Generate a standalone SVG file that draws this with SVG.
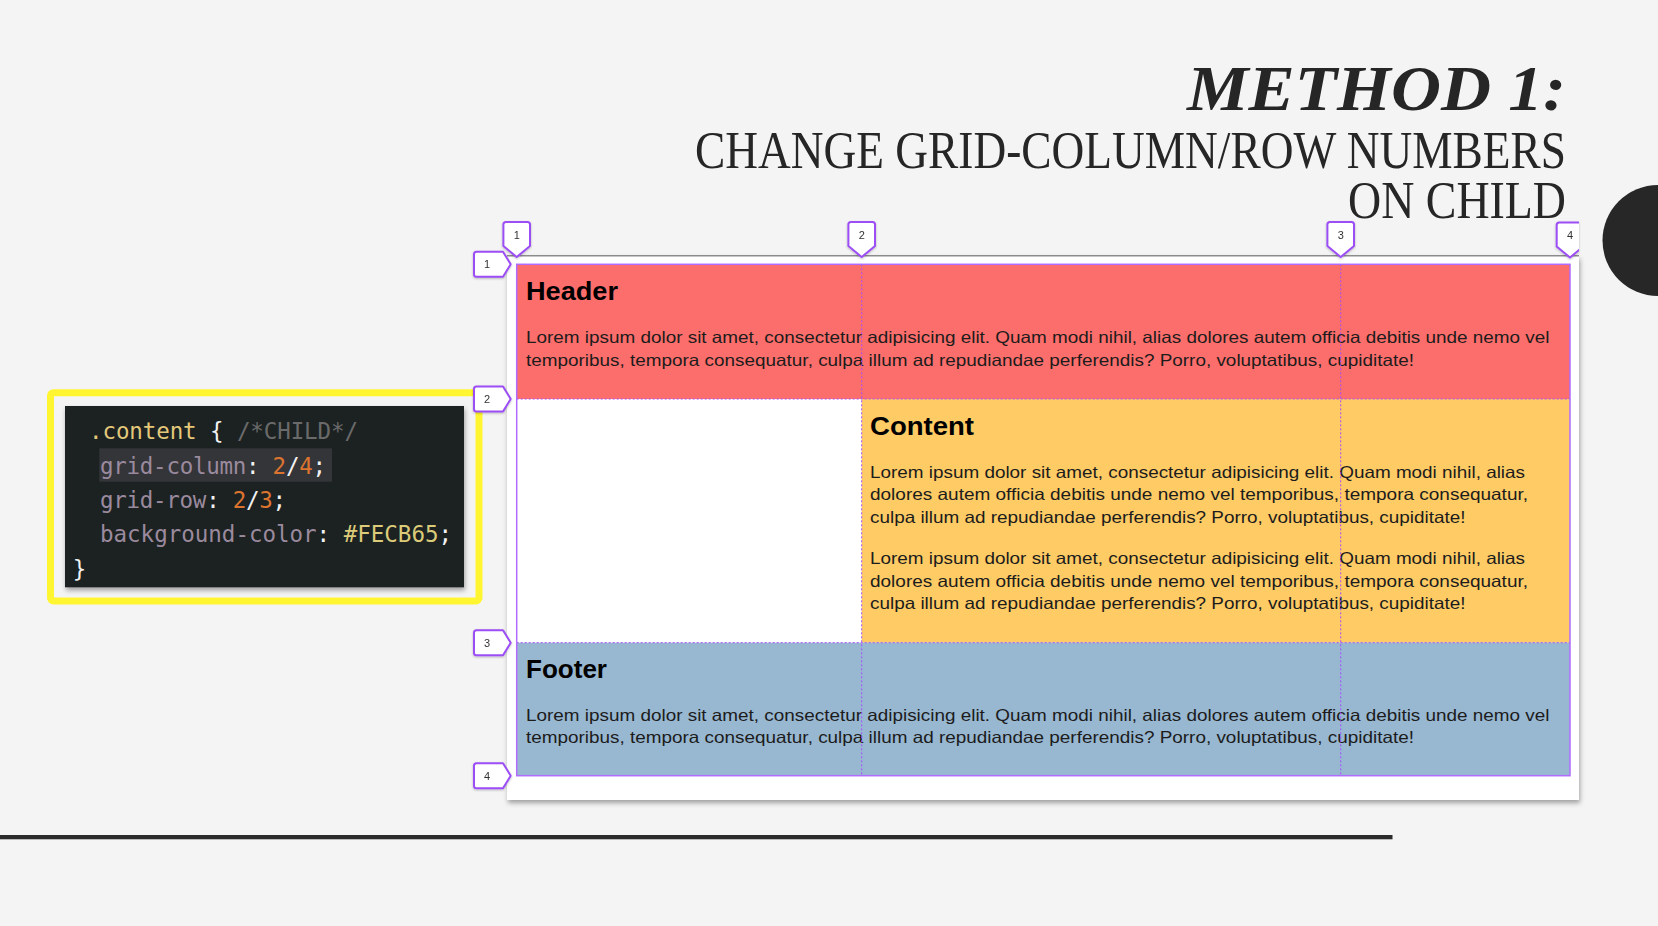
<svg xmlns="http://www.w3.org/2000/svg" width="1658" height="926" viewBox="0 0 1658 926">
  <defs>
    <style>
      .title { font-family: "Liberation Serif", "DejaVu Serif", serif; fill: #262626; }
      .code { font-family: "DejaVu Sans Mono", "Liberation Mono", monospace; font-size: 22.5px; }
      .sel { fill: #e4c87a; }
      .pun { fill: #f2f2f2; }
      .cmt { fill: #6a6a6a; }
      .prop { fill: #9b8a9e; }
      .num { fill: #dc7430; }
      .hex { fill: #dccb78; }
      .h { font-family: "Liberation Sans", Arial, sans-serif; font-weight: bold; font-size: 25px; fill: #000; }
      .p { font-family: "Liberation Sans", Arial, sans-serif; font-size: 16.5px; fill: #1c1c1c; }
      .gridline { stroke: #a64dff; stroke-width: 1; stroke-dasharray: 2 2; fill: none; }
      .tab { fill: #fff; stroke: #9c4ef5; stroke-width: 2; stroke-linejoin: round; }
      .tabnum { font-family: "Liberation Sans", Arial, sans-serif; font-size: 11px; fill: #333; text-anchor: middle; }
    </style>
    <filter id="panelShadow" x="-5%" y="-5%" width="110%" height="115%">
      <feDropShadow dx="1" dy="3" stdDeviation="2.5" flood-color="#000" flood-opacity="0.35"/>
    </filter>
    <filter id="tabShadow" x="-30%" y="-30%" width="160%" height="160%">
      <feDropShadow dx="0" dy="1" stdDeviation="1" flood-color="#000" flood-opacity="0.25"/>
    </filter>
    <!-- column marker, tip at origin pointing down -->
    <path id="colTab" d="M-13.3,-32.5 Q-13.3,-35 -10.8,-35 H10.8 Q13.3,-35 13.3,-32.5 V-11 L0,0 L-13.3,-11 Z"/>
    <!-- row marker, tip at origin pointing right -->
    <path id="rowTab" d="M-7.7,-12.5 L0,0 L-7.7,12.5 H-34.2 Q-36.7,12.5 -36.7,10 V-10 Q-36.7,-12.5 -34.2,-12.5 Z"/>
    <clipPath id="panelClip">
      <rect x="0" y="0" width="1579" height="926"/>
    </clipPath>
  </defs>

  <!-- page background -->
  <rect x="0" y="0" width="1658" height="926" fill="#f4f4f4"/>

  <!-- decorative half circle at right edge -->
  <circle cx="1658" cy="240.5" r="55.5" fill="#272727"/>

  <!-- bottom rule -->
  <rect x="0" y="835" width="1392.5" height="4.3" fill="#2b2b2b"/>

  <!-- title -->
  <g id="title">
    <text class="title" x="1566" y="110" text-anchor="end" font-size="64" font-style="italic" font-weight="bold" textLength="379" lengthAdjust="spacingAndGlyphs">METHOD 1:</text>
    <text class="title" x="1566" y="168" text-anchor="end" font-size="52" textLength="871" lengthAdjust="spacingAndGlyphs">CHANGE GRID-COLUMN/ROW NUMBERS</text>
    <text class="title" x="1566" y="217.5" text-anchor="end" font-size="52" textLength="218" lengthAdjust="spacingAndGlyphs">ON CHILD</text>
  </g>

  <!-- CSS snippet -->
  <g id="code-snippet">
    <rect x="50.5" y="392.7" width="428.5" height="208.3" rx="3" fill="none" stroke="#fff530" stroke-width="7"/>
    <rect x="65" y="406" width="399" height="181.3" fill="#1f2023" filter="url(#panelShadow)"/>
    <rect x="99.3" y="448.3" width="232.7" height="33.4" fill="#343538"/>
    <text class="code" x="89" y="439" xml:space="preserve" textLength="269" lengthAdjust="spacing"><tspan class="sel">.content</tspan><tspan class="pun"> { </tspan><tspan class="cmt">/*CHILD*/</tspan></text>
    <text class="code" x="100" y="473.5" xml:space="preserve" textLength="226" lengthAdjust="spacing"><tspan class="prop">grid-column</tspan><tspan class="pun">: </tspan><tspan class="num">2</tspan><tspan class="pun">/</tspan><tspan class="num">4</tspan><tspan class="pun">;</tspan></text>
    <text class="code" x="100" y="508" xml:space="preserve" textLength="186" lengthAdjust="spacing"><tspan class="prop">grid-row</tspan><tspan class="pun">: </tspan><tspan class="num">2</tspan><tspan class="pun">/</tspan><tspan class="num">3</tspan><tspan class="pun">;</tspan></text>
    <text class="code" x="100" y="542" xml:space="preserve" textLength="352" lengthAdjust="spacing"><tspan class="prop">background-color</tspan><tspan class="pun">: </tspan><tspan class="hex">#FECB65</tspan><tspan class="pun">;</tspan></text>
    <text class="code" x="72.7" y="576.5"><tspan class="pun">}</tspan></text>
  </g>

  <!-- browser page -->
  <g id="page">
    <rect x="507" y="256" width="1072" height="544" fill="#fff" filter="url(#panelShadow)"/>
    <line x1="507" y1="255.7" x2="1579" y2="255.7" stroke="#8c8c8c" stroke-width="1.5"/>
  </g>

  <g id="header">
    <rect x="516.7" y="264.3" width="1053.3" height="134.7" fill="#fc6e6b"/>
    <text class="h" x="526" y="300" textLength="92" lengthAdjust="spacingAndGlyphs">Header</text>
    <text class="p" x="526" y="343.3" textLength="1023.5" lengthAdjust="spacingAndGlyphs">Lorem ipsum dolor sit amet, consectetur adipisicing elit. Quam modi nihil, alias dolores autem officia debitis unde nemo vel</text>
    <text class="p" x="526" y="366" textLength="888" lengthAdjust="spacingAndGlyphs">temporibus, tempora consequatur, culpa illum ad repudiandae perferendis? Porro, voluptatibus, cupiditate!</text>
  </g>

  <g id="content">
    <rect x="861.7" y="399" width="708.3" height="243.7" fill="#fecb65"/>
    <text class="h" x="870" y="435" textLength="104" lengthAdjust="spacingAndGlyphs">Content</text>
    <text class="p" x="870" y="477.5" textLength="655" lengthAdjust="spacingAndGlyphs">Lorem ipsum dolor sit amet, consectetur adipisicing elit. Quam modi nihil, alias</text>
    <text class="p" x="870" y="500.2" textLength="658" lengthAdjust="spacingAndGlyphs">dolores autem officia debitis unde nemo vel temporibus, tempora consequatur,</text>
    <text class="p" x="870" y="522.9" textLength="595.5" lengthAdjust="spacingAndGlyphs">culpa illum ad repudiandae perferendis? Porro, voluptatibus, cupiditate!</text>
    <text class="p" x="870" y="563.8" textLength="655" lengthAdjust="spacingAndGlyphs">Lorem ipsum dolor sit amet, consectetur adipisicing elit. Quam modi nihil, alias</text>
    <text class="p" x="870" y="586.5" textLength="658" lengthAdjust="spacingAndGlyphs">dolores autem officia debitis unde nemo vel temporibus, tempora consequatur,</text>
    <text class="p" x="870" y="609.2" textLength="595.5" lengthAdjust="spacingAndGlyphs">culpa illum ad repudiandae perferendis? Porro, voluptatibus, cupiditate!</text>
  </g>

  <g id="footer">
    <rect x="516.7" y="642.7" width="1053.3" height="133" fill="#98b7d1"/>
    <text class="h" x="526" y="678.3" textLength="81" lengthAdjust="spacingAndGlyphs">Footer</text>
    <text class="p" x="526" y="720.7" textLength="1023.5" lengthAdjust="spacingAndGlyphs">Lorem ipsum dolor sit amet, consectetur adipisicing elit. Quam modi nihil, alias dolores autem officia debitis unde nemo vel</text>
    <text class="p" x="526" y="743.3" textLength="888" lengthAdjust="spacingAndGlyphs">temporibus, tempora consequatur, culpa illum ad repudiandae perferendis? Porro, voluptatibus, cupiditate!</text>
  </g>

  <!-- grid lines overlay -->
  <g id="grid-lines">
    <line class="gridline" x1="861.7" y1="264.3" x2="861.7" y2="775.7"/>
    <line class="gridline" x1="1340.7" y1="264.3" x2="1340.7" y2="775.7"/>
    <line class="gridline" x1="516.7" y1="399" x2="1570" y2="399"/>
    <line class="gridline" x1="516.7" y1="642.7" x2="1570" y2="642.7"/>
    <rect x="516.7" y="264.3" width="1053.3" height="511.4" fill="none" stroke="#b16bff" stroke-width="1.5"/>
  </g>

  <!-- column line markers -->
  <g id="column-markers" filter="url(#tabShadow)">
    <use href="#colTab" class="tab" transform="translate(516.7,257)"/>
    <text class="tabnum" x="516.7" y="239">1</text>
    <use href="#colTab" class="tab" transform="translate(861.7,257)"/>
    <text class="tabnum" x="861.7" y="239">2</text>
    <use href="#colTab" class="tab" transform="translate(1340.7,257)"/>
    <text class="tabnum" x="1340.7" y="239">3</text>
    <g clip-path="url(#panelClip)">
      <use href="#colTab" class="tab" transform="translate(1570,257.5)"/>
      <text class="tabnum" x="1570" y="239">4</text>
    </g>
  </g>

  <!-- row line markers -->
  <g id="row-markers" filter="url(#tabShadow)">
    <use href="#rowTab" class="tab" transform="translate(510.7,264.3)"/>
    <text class="tabnum" x="487" y="268.3">1</text>
    <use href="#rowTab" class="tab" transform="translate(510.7,399)"/>
    <text class="tabnum" x="487" y="403">2</text>
    <use href="#rowTab" class="tab" transform="translate(510.7,642.7)"/>
    <text class="tabnum" x="487" y="646.7">3</text>
    <use href="#rowTab" class="tab" transform="translate(510.7,775.7)"/>
    <text class="tabnum" x="487" y="779.7">4</text>
  </g>
</svg>
